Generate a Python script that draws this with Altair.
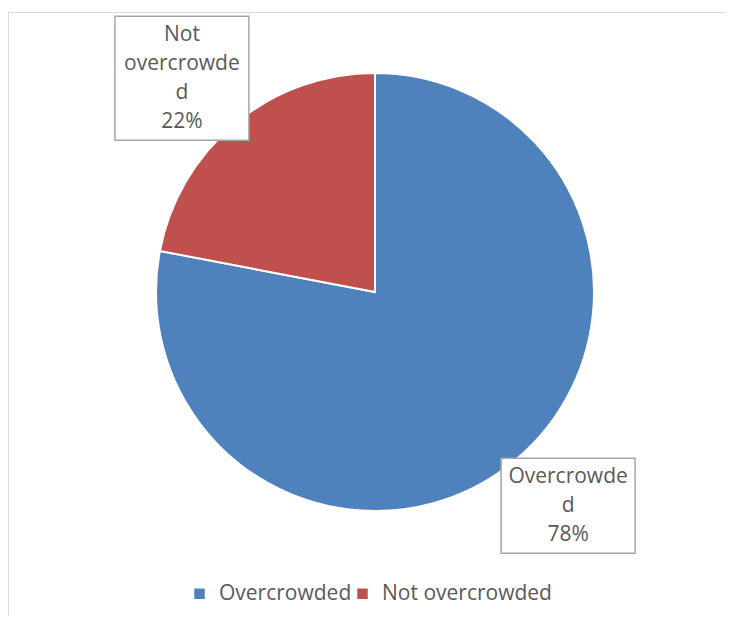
import altair as alt
import pandas as pd

categories = ["Overcrowded", "Not overcrowded"]
values = [78, 22]
label_text = ["Overcrowde\nd", "Not\novercrowde\nd"]
colors = ["#4F81BD", "#C0504D"]

df = pd.DataFrame({
    "category": categories,
    "value": values,
    "order": list(range(len(categories))),
    "name": label_text,
})

W, H = 717, 608
CX, CY, R = 367, 284, 219
LR = 288
LH = 29
FONT = "Open Sans"
GRAY = "#595959"

one = alt.Data(values=[{"a": 1}])
border_left = alt.Chart(one).mark_rule(stroke="#d9d9d9", strokeWidth=1).encode(
    x=alt.value(0.5), y=alt.value(4.5), y2=alt.value(H)
)
border_top = alt.Chart(one).mark_rule(stroke="#d9d9d9", strokeWidth=1).encode(
    x=alt.value(0.5), x2=alt.value(W), y=alt.value(4.5)
)

pie = alt.Chart(df).mark_arc(outerRadius=R, stroke="white", strokeWidth=2).encode(
    theta=alt.Theta("value:Q", stack=True),
    color=alt.Color(
        "category:N",
        scale=alt.Scale(domain=categories, range=colors),
        sort=categories,
        legend=alt.Legend(
            orient="none", direction="horizontal", legendX=181, legendY=575,
            title=None, symbolType="square", symbolSize=110, symbolStrokeWidth=0,
            labelFontSize=21, labelFont=FONT, labelColor=GRAY, labelLimit=0,
            columnPadding=0, labelOffset=9,
        ),
    ),
    order=alt.Order("order:Q"),
    x=alt.value(CX),
    y=alt.value(CY),
)

lab = alt.Chart(df).transform_window(
    cum="sum(value)", frame=[None, 0], sort=[alt.SortField("order")]
).transform_joinaggregate(total="sum(value)").transform_calculate(
    mid=f"(datum.cum - datum.value/2)/datum.total*2*PI - 2.5*PI/180",
    lx=f"{CX} + {LR}*sin(datum.mid)",
    ly=f"{CY} - {LR}*cos(datum.mid)",
    label="datum.name + '\\n' + format(datum.value/datum.total, '.0%')",
    nl="length(split(datum.label, '\\n'))",
    ty=f"datum.ly - (datum.nl - 1)*{LH}/2",
    x1="datum.lx - 67",
    x2="datum.lx + 67",
    y1=f"datum.ly - (datum.nl*{LH} + 8)/2",
    y2=f"datum.ly + (datum.nl*{LH} + 8)/2",
)

boxes = lab.mark_rect(fill="white", stroke="#a6a6a6", strokeWidth=1.5).encode(
    x=alt.X("x1:Q", scale=None, axis=None),
    x2="x2:Q",
    y=alt.Y("y1:Q", scale=None, axis=None),
    y2="y2:Q",
)

texts = lab.mark_text(
    lineBreak="\n", lineHeight=LH, fontSize=21, font=FONT, color=GRAY,
    align="center", baseline="middle",
).encode(
    x=alt.X("lx:Q", scale=None, axis=None),
    y=alt.Y("ty:Q", scale=None, axis=None),
    text="label:N",
)

chart = alt.layer(border_left, border_top, pie, boxes, texts).properties(
    width=W, height=H, padding=0, autosize=alt.AutoSizeParams(type="none")
).configure_view(stroke=None)

chart.save("out.html", embed_options={"renderer": "svg", "actions": False})
